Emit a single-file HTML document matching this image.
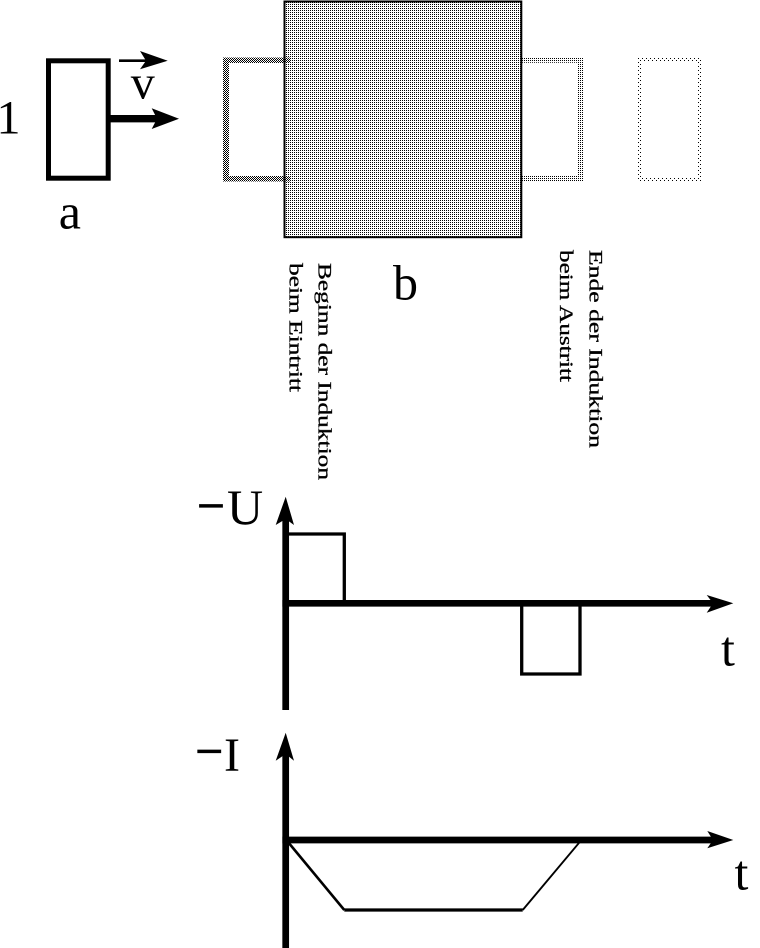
<!DOCTYPE html>
<html>
<head>
<meta charset="utf-8">
<style>
  html, body { margin: 0; padding: 0; background: #fff; }
  svg { display: block; }
  text { font-family: "Liberation Serif", "Times New Roman", serif; fill: #000; }
</style>
</head>
<body>
<svg width="760" height="948" viewBox="0 0 760 948" xmlns="http://www.w3.org/2000/svg">
  <defs>
    <pattern id="dots25" x="0" y="0" width="2" height="2" patternUnits="userSpaceOnUse">
      <rect x="0" y="0" width="1" height="1" fill="#000"/>
    </pattern>
    <pattern id="checker" x="0" y="0" width="2" height="2" patternUnits="userSpaceOnUse">
      <rect x="0" y="0" width="1" height="1" fill="#000"/>
      <rect x="1" y="1" width="1" height="1" fill="#000"/>
    </pattern>
    <pattern id="sparse" x="0" y="0" width="4" height="4" patternUnits="userSpaceOnUse">
      <rect x="0" y="0" width="1" height="1" fill="#000"/>
      <rect x="2" y="2" width="1" height="1" fill="#000"/>
    </pattern>
  </defs>

  <rect x="0" y="0" width="760" height="948" fill="#fff"/>

  <!-- Solid loop -->
  <rect x="48.5" y="60.8" width="59.7" height="117.4" fill="none" stroke="#000" stroke-width="5"/>

  <!-- small v arrow -->
  <line x1="119" y1="60.7" x2="150" y2="60.7" stroke="#000" stroke-width="2.7"/>
  <polygon points="140,51 167.7,60.7 140,69.3 146,60.7" fill="#000"/>

  <!-- big arrow -->
  <line x1="110" y1="118.7" x2="160" y2="118.7" stroke="#000" stroke-width="7.3"/>
  <polygon points="151.7,108.3 179,118.7 151.7,129 157,118.7" fill="#000"/>

  <!-- labels -->
  <text x="-3.5" y="133.3" font-size="48">1</text>
  <text x="130.8" y="98.3" font-size="48">v</text>
  <text x="58.8" y="228.5" font-size="50">a</text>

  <!-- ghost rect 1 (checker) -->
  <path d="M223,57.5 H290 V181.5 H223 Z M229,63 V176 H290 V63 Z" fill="url(#checker)" fill-rule="evenodd"/>
  <!-- ghost rect 2 (dots) -->
  <path d="M515,57.3 H583.5 V181 H515 Z M515,62.8 V175.7 H577.8 V62.8 Z" fill="url(#dots25)" fill-rule="evenodd"/>
  <!-- ghost rect 3 (sparse) -->
  <path d="M637.7,57.3 H701 V181 H637.7 Z M642,62 V177 H697 V62 Z" fill="url(#sparse)" fill-rule="evenodd"/>

  <!-- big field box -->
  <rect x="284.5" y="1.5" width="236.8" height="235.7" fill="url(#dots25)" stroke="#000" stroke-width="2"/>

  <!-- b label -->
  <text x="393" y="299.5" font-size="50">b</text>

  <!-- rotated labels -->
  <text transform="translate(318.3,263) rotate(90)" font-size="19" stroke="#000" stroke-width="0.3" textLength="217" lengthAdjust="spacingAndGlyphs">Beginn der Induktion</text>
  <text transform="translate(289.3,263) rotate(90)" font-size="19" stroke="#000" stroke-width="0.3" textLength="129" lengthAdjust="spacingAndGlyphs">beim Eintritt</text>
  <text transform="translate(589.5,250) rotate(90)" font-size="19" stroke="#000" stroke-width="0.3" textLength="198" lengthAdjust="spacingAndGlyphs">Ende der Induktion</text>
  <text transform="translate(560.2,250) rotate(90)" font-size="19" stroke="#000" stroke-width="0.3" textLength="132" lengthAdjust="spacingAndGlyphs">beim Austritt</text>

  <!-- ===== U graph ===== -->
  <line x1="285.7" y1="515" x2="285.7" y2="710" stroke="#000" stroke-width="6.7"/>
  <polygon points="285.7,496.7 294,525 285.7,519 275.7,525" fill="#000"/>
  <line x1="282.4" y1="603.3" x2="716" y2="603.3" stroke="#000" stroke-width="6.7"/>
  <polygon points="733.3,603.3 706.7,612.7 713,603.3 706.7,595" fill="#000"/>
  <polyline points="288,534 344.3,534 344.3,603" fill="none" stroke="#000" stroke-width="3.3"/>
  <polyline points="521.7,603 521.7,674 580,674 580,603" fill="none" stroke="#000" stroke-width="3.3"/>

  <text x="200" y="516.5" font-size="44" stroke="#000" stroke-width="1.2">–</text>
  <text x="227" y="524" font-size="50">U</text>
  <text x="721" y="665.5" font-size="50">t</text>

  <!-- ===== I graph ===== -->
  <line x1="285.7" y1="750" x2="285.7" y2="948" stroke="#000" stroke-width="6.7"/>
  <polygon points="285.7,732.7 294,760.7 285.7,754 275.7,760.7" fill="#000"/>
  <line x1="282.4" y1="840" x2="716" y2="840" stroke="#000" stroke-width="6.7"/>
  <polygon points="733.3,840 707.3,848.3 713,840 707.3,831" fill="#000"/>
  <line x1="288" y1="842" x2="344.3" y2="910" stroke="#000" stroke-width="2.6"/>
  <line x1="344.3" y1="910" x2="522.7" y2="910" stroke="#000" stroke-width="3.3"/>
  <line x1="522.7" y1="910" x2="580" y2="841.7" stroke="#000" stroke-width="1.9"/>

  <text x="198.3" y="762" font-size="44" stroke="#000" stroke-width="1.2">–</text>
  <text x="224" y="771" font-size="48">I</text>
  <text x="734.5" y="889.5" font-size="50">t</text>
</svg>
</body>
</html>
